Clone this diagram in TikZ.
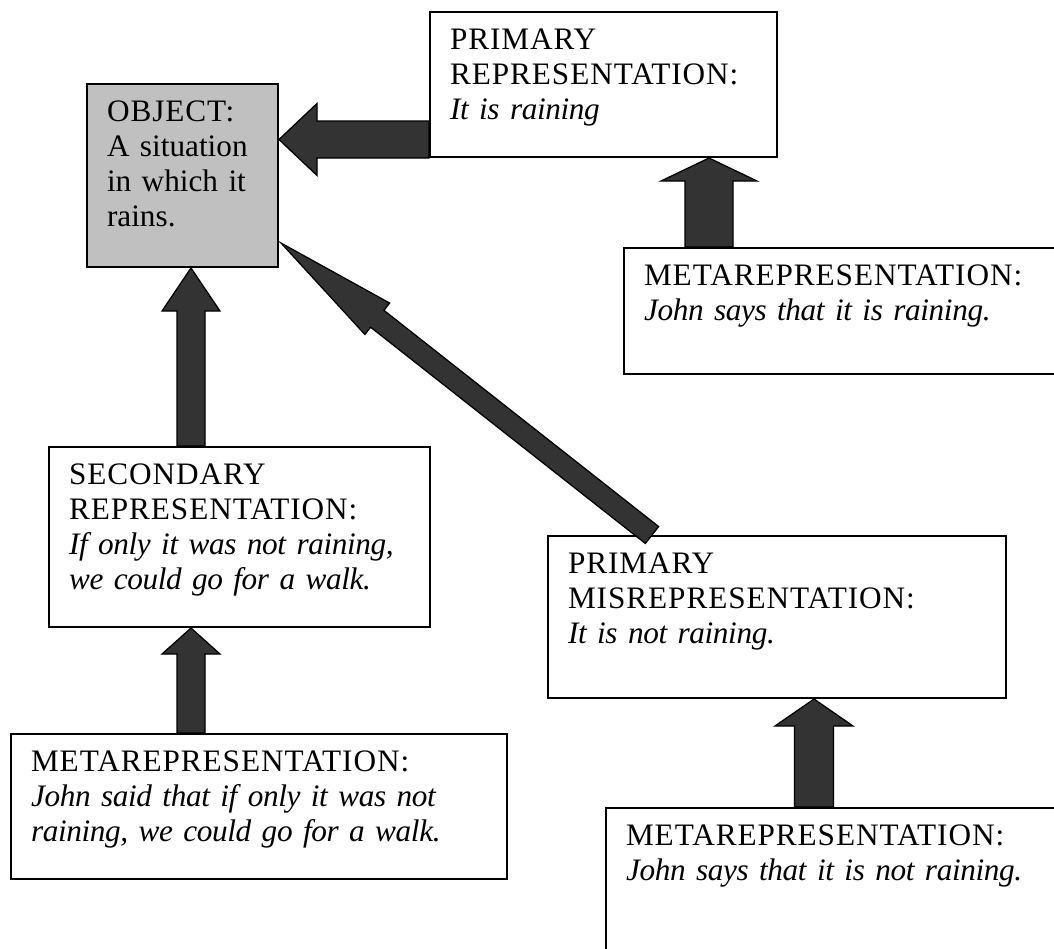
\documentclass[tikz,border=0pt]{standalone}
\usepackage{fontspec}
\setmainfont{Liberation Serif}[ItalicFeatures={LetterSpace=-1.2}]
\newfontfamily\capsfont{Liberation Serif}[LetterSpace=3]
\usetikzlibrary{calc}

\definecolor{objgray}{RGB}{192,192,192}
\definecolor{arrowgray}{RGB}{51,51,51}

% tail, tip, shaft half width, head half width, head length
\newcommand\blockarrow[5]{%
  \coordinate (ba) at ($(#2)!#5!(#1)$);
  \filldraw[arrowfill] ($(#1)!#3!90:(#2)$) -- ($(ba)!#3!90:(#2)$) -- ($(ba)!#4!90:(#2)$)
    -- (#2) -- ($(ba)!#4!-90:(#2)$) -- ($(ba)!#3!-90:(#2)$) -- ($(#1)!#3!-90:(#2)$) -- cycle;
}
\newcommand\hd[1]{{\capsfont #1}}

\begin{document}
\begin{tikzpicture}[x=0.4pt, y=-0.4pt,
    box/.style={draw, line width=0.8pt, fill=white, anchor=north west, align=left,
      inner xsep=8pt, inner ysep=0pt, text height=14.8pt,
      font=\fontsize{12.5pt}{14pt}\selectfont},
    arrowfill/.style={fill=arrowgray, draw=black, line width=0.5pt, line join=miter}]
  \useasboundingbox (0,0) rectangle (1054,948);
  \clip (0,0) rectangle (1054,948);

  \node[box, fill=objgray, text width=60.4pt, text depth=58.4pt] (obj) at (86,83)
    {\hd{OBJECT:}\\A situation\\in which it\\rains.};
  \node[box, text width=122.8pt, text depth=43.2pt] (prim) at (429,11)
    {\hd{PRIMARY}\\\hd{REPRESENTATION:}\\\textit{It is raining}};
  \node[box, text width=166.8pt, text depth=35.6pt] (meta1) at (623,247)
    {\hd{METAREPRESENTATION:}\\\textit{John says that it is raining.}};
  \node[box, text width=136.4pt, text depth=57.2pt] (sec) at (48,446)
    {\hd{SECONDARY}\\\hd{REPRESENTATION:}\\\textit{If only it was not raining,}\\\textit{we could go for a walk.}};
  \node[box, text width=167.2pt, text depth=50pt] (mis) at (547,535)
    {\hd{PRIMARY}\\\hd{MISREPRESENTATION:}\\\textit{It is not raining.}};
  \node[box, text width=182.4pt, text depth=43.2pt] (meta2) at (10,733)
    {\hd{METAREPRESENTATION:}\\\textit{John said that if only it was not}\\\textit{raining, we could go for a walk.}};
  \node[box, text width=172pt, text depth=57.2pt] (meta3) at (605,807)
    {\hd{METAREPRESENTATION:}\\\textit{John says that it is not raining.}};

  \coordinate (a1) at ($(prim.south west)+(0,-18.5)$);
  \coordinate (a2) at ($(meta1.north west)+(86,0)$);
  \coordinate (a3) at ($(sec.north west)+(143,0)$);
  \coordinate (a4) at ($(meta2.north west)+(181,0)$);
  \coordinate (a5) at ($(mis.north west)+(105,0)$);
  \coordinate (a6) at ($(meta3.north west)+(209,0)$);
  \coordinate (t5) at ($(obj.south east)+(2,-25)$);

  \blockarrow{a1}{obj.east |- a1}{7.4pt}{14.4pt}{15.2pt}
  \blockarrow{a2}{a2 |- prim.south}{9.6pt}{19.2pt}{9.2pt}
  \blockarrow{a3}{a3 |- obj.south}{5.6pt}{11.6pt}{17.2pt}
  \blockarrow{a4}{a4 |- sec.south}{5.6pt}{11.6pt}{10.4pt}
  \blockarrow{a5}{t5}{4.3pt}{8pt}{49pt}
  \blockarrow{a6}{a6 |- mis.south}{7.8pt}{15.6pt}{10.8pt}
\end{tikzpicture}
\end{document}
